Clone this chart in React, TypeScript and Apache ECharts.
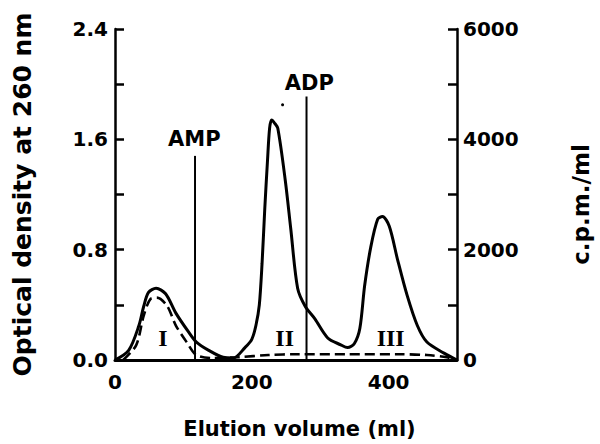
import React, { useEffect, useRef } from "react";
import * as echarts from "echarts";

// Optical density (solid) vs elution volume
const solidVolume = [0, 20, 35, 42, 49, 60, 74, 89, 108, 119, 137, 158, 173, 190, 200, 206, 211, 215, 219, 223, 226, 229, 233, 238, 249, 257, 267, 278, 292, 311, 330, 340, 350, 358, 365, 374, 384, 391, 401, 413, 427, 442, 456, 481, 500];
const solidOD = [0, 0.07, 0.25, 0.39, 0.49, 0.52, 0.48, 0.34, 0.2, 0.13, 0.07, 0.02, 0.015, 0.09, 0.15, 0.25, 0.4, 0.7, 1.1, 1.45, 1.68, 1.74, 1.72, 1.68, 1.3, 0.95, 0.52, 0.39, 0.3, 0.16, 0.11, 0.09, 0.12, 0.23, 0.54, 0.82, 1.02, 1.04, 0.97, 0.73, 0.47, 0.25, 0.13, 0.05, 0];

// Radioactivity (dashed) vs elution volume
const dashedVolume = [12, 31, 42, 52, 61, 76, 89, 105, 119, 144, 180, 224, 267, 340, 413, 456, 485, 500];
const dashedCPM = [0, 270, 805, 1110, 1130, 985, 625, 320, 90, 35, 50, 90, 105, 105, 105, 90, 50, 0];

// Marker lines (AMP, ADP)
const markerNames = ["AMP", "ADP"];
const markerVolume = [117, 280];
const markerTopOD = [1.48, 1.91];
const markerLabelPos = [[116, 1.6], [284, 2.01]];

// Peak labels
const peakNames = ["I", "II", "III"];
const peakLabelPos = [[70, 0.16], [248, 0.16], [403, 0.16]];

const odTicks = [0, 0.8, 1.6, 2.4];
const cpmTicks = [0, 2000, 4000, 6000];
const volumeTicks = [0, 200, 400];

const FONT = "DejaVu Sans";

export default function App() {
  const ref = useRef<HTMLDivElement>(null);
  useEffect(() => {
    const chart = echarts.init(ref.current!, null, { renderer: "svg" });
    const black = "#000";
    const axisLine = { show: true, lineStyle: { color: black, width: 2.5 } };
    const labelStyle = { color: black, fontFamily: FONT, fontWeight: "bold" as const, fontSize: 20 };

    const markerSeries = markerNames.map((n, i) => ({
      type: "line",
      name: n + " line",
      yAxisIndex: 0,
      data: [[markerVolume[i], 0], [markerVolume[i], markerTopOD[i]]],
      symbol: "none",
      lineStyle: { color: black, width: 2 },
      z: 3,
    }));

    const textLabel = (family: string, size: number) => ({
      show: true,
      position: "inside",
      formatter: "{b}",
      color: black,
      opacity: 1,
      textBorderWidth: 0,
      fontFamily: family,
      fontWeight: "bold",
      fontSize: size,
    });

    chart.setOption({
      animation: false,
      backgroundColor: "#fff",
      grid: { left: 115, right: 141, top: 29, bottom: 79 },
      xAxis: {
        type: "value",
        min: 0,
        max: 500,
        interval: 100,
        axisLine: { show: true, lineStyle: { color: black, width: 3 } },
        axisTick: { show: false },
        splitLine: { show: false },
        axisLabel: {
          ...labelStyle,
          margin: 12,
          formatter: (v: number) => (volumeTicks.includes(v) ? String(v) : ""),
        },
        name: "Elution volume (ml)",
        nameLocation: "middle",
        nameGap: 58,
        nameTextStyle: { color: black, fontFamily: FONT, fontWeight: "bold", fontSize: 21, padding: [0, 0, 0, 27] },
      },
      yAxis: [
        {
          type: "value",
          min: 0,
          max: 2.4,
          interval: 0.4,
          position: "left",
          axisLine,
          axisTick: { show: true, inside: true, length: 9, lineStyle: { color: black, width: 2.5 } },
          splitLine: { show: false },
          axisLabel: {
            ...labelStyle,
            margin: 7,
            formatter: (v: number) => {
              const hit = odTicks.find((t) => Math.abs(t - v) < 1e-6);
              return hit !== undefined ? hit.toFixed(1) : "";
            },
          },
          name: "Optical density at 260 nm",
          nameLocation: "middle",
          nameGap: 80,
          nameRotate: 90,
          nameTextStyle: { color: black, fontFamily: FONT, fontWeight: "bold", fontSize: 25 },
        },
        {
          type: "value",
          min: 0,
          max: 6000,
          interval: 1000,
          position: "right",
          axisLine,
          axisTick: { show: true, inside: true, length: 9, lineStyle: { color: black, width: 2.5 } },
          splitLine: { show: false },
          axisLabel: {
            ...labelStyle,
            margin: 6,
            formatter: (v: number) => (cpmTicks.includes(v) ? String(v) : ""),
          },
          name: "c.p.m./ml",
          nameLocation: "middle",
          nameGap: 112,
          nameRotate: 90,
          nameTextStyle: { color: black, fontFamily: FONT, fontWeight: "bold", fontSize: 23, padding: [0, 20, 0, 0] },
        },
      ],
      series: [
        {
          type: "line",
          name: "Optical density",
          yAxisIndex: 0,
          data: solidVolume.map((x, i) => [x, solidOD[i]]),
          smooth: 0.3,
          symbol: "none",
          lineStyle: { color: black, width: 3 },
          z: 4,
        },
        {
          type: "line",
          name: "c.p.m./ml",
          yAxisIndex: 1,
          data: dashedVolume.map((x, i) => [x, dashedCPM[i]]),
          smooth: 0.3,
          symbol: "none",
          lineStyle: { color: black, width: 2.6, type: [10, 5] },
          z: 4,
        },
        ...markerSeries,
        {
          type: "scatter",
          name: "marker labels",
          yAxisIndex: 0,
          symbolSize: 1,
          itemStyle: { color: "rgba(0,0,0,0)", opacity: 1 },
          data: markerNames.map((n, i) => ({ name: n, value: markerLabelPos[i] })),
          label: textLabel(FONT, 21),
          z: 5,
        },
        {
          type: "scatter",
          name: "peak labels",
          yAxisIndex: 0,
          symbolSize: 1,
          itemStyle: { color: "rgba(0,0,0,0)", opacity: 1 },
          data: peakNames.map((n, i) => ({ name: n, value: peakLabelPos[i] })),
          label: textLabel("Liberation Serif", 24),
          z: 5,
        },
        {
          type: "scatter",
          name: "dot",
          yAxisIndex: 0,
          symbolSize: 3,
          itemStyle: { color: black, opacity: 1 },
          data: [[245, 1.85]],
        },
      ],
    });
    return () => chart.dispose();
  }, []);
  return <div ref={ref} style={{ width: 600, height: 444, position: "absolute", left: 0, top: 0 }} />;
}
